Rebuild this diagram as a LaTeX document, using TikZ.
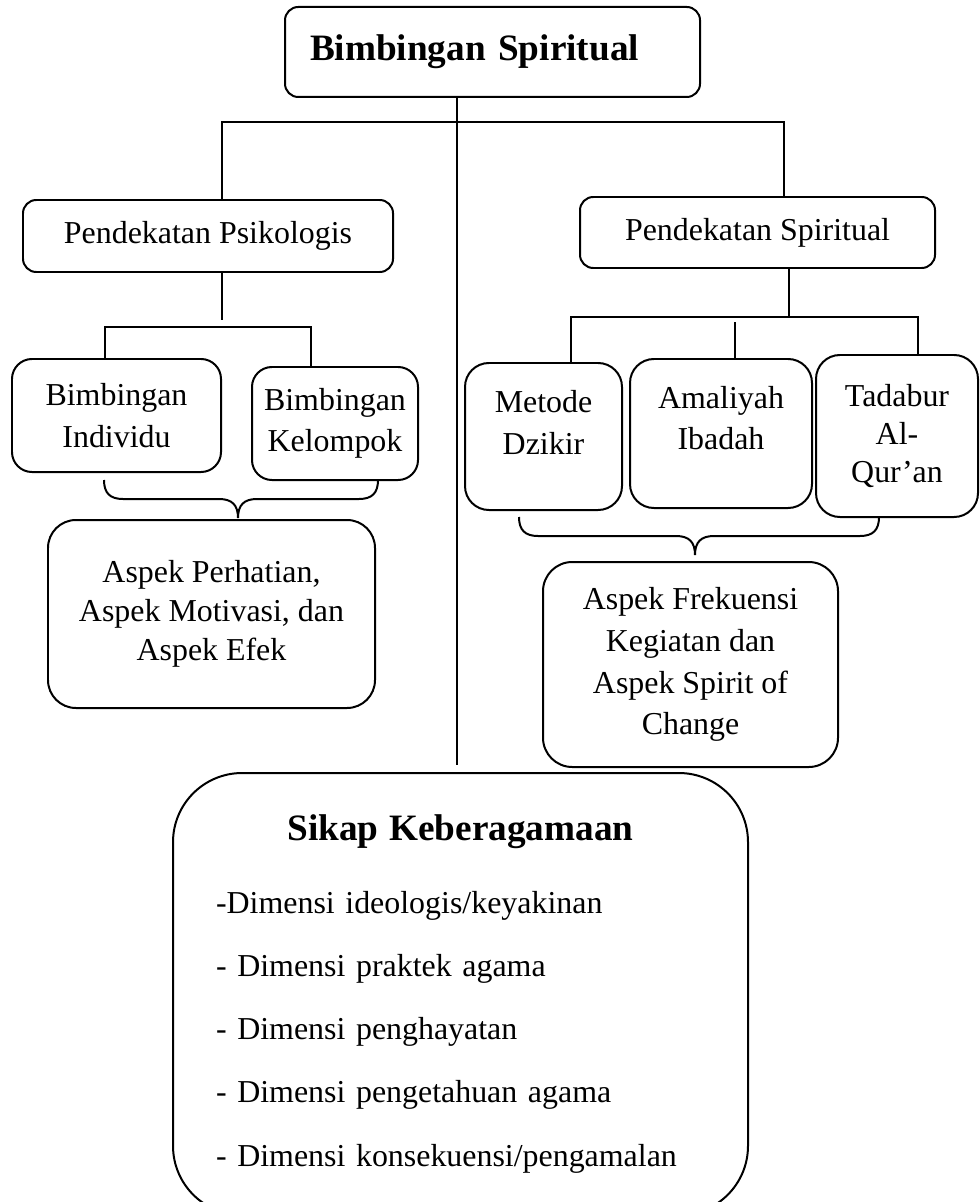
\documentclass[tikz,border=0pt]{standalone}
\usepackage{fontspec}
\setmainfont{Liberation Serif}
\usepackage{tikz}
\usetikzlibrary{calc}

% curly brace pointing down: left end, tip, right end (named coordinates)
\newcommand{\downbrace}[3]{%
	\draw[brace] (#1) .. controls +(0,13) and +(-13,0) .. ($(#1)+(19,19)$)
	-- ($(#2)+(-19,-19)$) .. controls +(13,0) and +(0,-13) .. (#2)
	.. controls +(0,-13) and +(-13,0) .. ($(#2)+(19,-19)$)
	-- ($(#3)+(-19,19)$) .. controls +(13,0) and +(0,13) .. (#3);}

\begin{document}
\begin{tikzpicture}[
		% work in pixels of the sketch, y going down
		x=0.376pt, y=-0.376pt,
		box/.style={draw, line width=0.75pt, rounded corners=#1, align=center,
			font=\fontsize{12pt}{15.5pt}\selectfont},
		box/.default=5pt,
		boxsize/.style 2 args={minimum width=#1*0.376pt, minimum height=#2*0.376pt},
		link/.style={line width=0.5pt},
		brace/.style={line width=0.75pt}
		]
		
		\useasboundingbox (0,0) rectangle (979,1202);
		
		% --- 1. ROOT ---
		\node[box=5pt, boxsize={415}{90}, text width=365*0.376pt, align=left,
			font=\fontsize{14pt}{17pt}\selectfont\bfseries] (top) at (492.5,52) {Bimbingan Spiritual};
		
		% --- 2. TWO APPROACHES ---
		\node[box=5pt, boxsize={370}{72}] (psi) at (208,236) {Pendekatan Psikologis};
		\node[box=5pt, boxsize={355}{71}] (spi) at (757.5,232.5) {Pendekatan Spiritual};
		
		% --- 3. METHODS ---
		\node[box=7.5pt, boxsize={209}{113}] (ind) at (116.5,415.5) {Bimbingan\\Individu};
		\node[box=7.5pt, boxsize={166}{113}] (kel) at (335,423.5) {Bimbingan\\Kelompok};
		
		\node[box=9pt, boxsize={157}{147}, text depth=10.5pt] (met) at (543.5,436.5) {Metode\\Dzikir};
		\node[box=9pt, boxsize={182}{149}, text depth=12pt] (ami) at (721,433.5) {Amaliyah\\Ibadah};
		\node[box=9pt, boxsize={162}{162}, font=\fontsize{12pt}{14.2pt}\selectfont] (tad) at (897,436) {Tadabur\\Al-\\Qur'an};
		
		% --- 4. ASPECTS ---
		\node[box=10.5pt, boxsize={327}{188}, font=\fontsize{12pt}{14.7pt}\selectfont] (asp) at (211.5,614)
		{Aspek Perhatian,\\Aspek Motivasi, dan\\Aspek Efek};
		\node[box=11pt, boxsize={295}{205}, font=\fontsize{12pt}{15.7pt}\selectfont] (frk) at (690.5,664.5)
		{Aspek Frekuensi\\Kegiatan dan\\Aspek Spirit of\\Change};
		
		% --- 5. OUTCOME ---
		\node[box=26pt, boxsize={575}{442}, text width=489*0.376pt, align=left,
			font=\fontsize{12pt}{23.8pt}\selectfont] (sik) at (460.5,994)
		{\makebox[\hsize]{\fontsize{14pt}{17pt}\selectfont\bfseries Sikap Keberagamaan}\\[3.4pt]
			-Dimensi ideologis/keyakinan\\
			- Dimensi praktek agama\\
			- Dimensi penghayatan\\
			- Dimensi pengetahuan agama\\
			- Dimensi konsekuensi/pengamalan};
		
		% --- CONNECTORS ---
		\coordinate (lbar) at (222,122);
		\coordinate (rbar) at (784,122);
		\coordinate (cbot) at (457,765);
		\draw[link] (lbar |- psi.north) -- (lbar) -- (rbar) -- (rbar |- spi.north);
		\draw[link] (top.south -| cbot) -- (cbot);
		
		% left branch
		\coordinate (pb) at (222,320);
		\coordinate (pl) at (105,327);
		\coordinate (pr) at (311,327);
		\draw[link] (psi.south -| pb) -- (pb);
		\draw[link] (pl |- ind.north) -- (pl) -- (pr) -- (pr |- kel.north);
		
		% right branch
		\coordinate (sb) at (789,317);
		\coordinate (sl) at (571,317);
		\coordinate (sr) at (918,317);
		\coordinate (sm) at (735,322);
		\draw[link] (spi.south -| sb) -- (sb);
		\draw[link] (sl |- met.north) -- (sl) -- (sr) -- (sr |- tad.north);
		\draw[link] (sm) -- (sm |- ami.north);
		
		% braces
		\coordinate (bl) at (104,480);
		\coordinate (bt) at (238,518);
		\coordinate (br) at (378,480);
		\downbrace{bl}{bt}{br}
		
		\coordinate (cl) at (519,517);
		\coordinate (ct) at (695,555);
		\coordinate (cr) at (879,517);
		\downbrace{cl}{ct}{cr}
		
	\end{tikzpicture}
\end{document}
